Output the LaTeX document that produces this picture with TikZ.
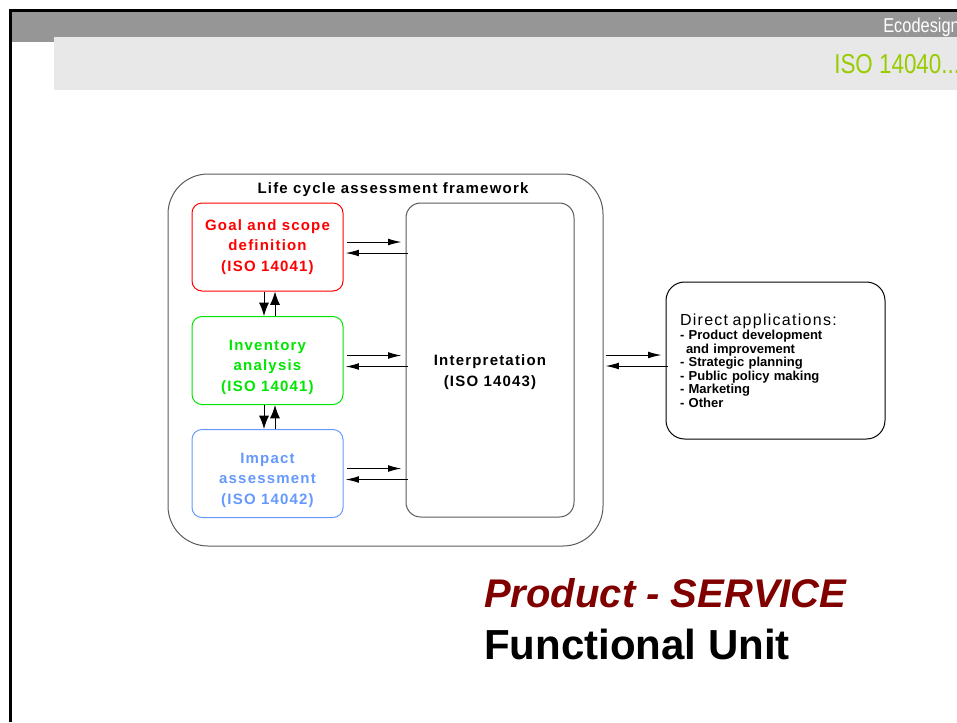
\documentclass[tikz,border=0pt]{standalone}
\usepackage{fontspec}
\setmainfont{Liberation Sans}
\newfontfamily\diafont[LetterSpace=8]{Liberation Sans}
\newfontfamily\narrowfont[FakeStretch=0.82]{Liberation Sans}
\usetikzlibrary{arrows.meta,calc}
\begin{document}
\begin{tikzpicture}[x=0.75pt,y=-0.75pt,
  stagebox/.style={draw, line width=0.75pt, rounded corners=7.5pt, minimum width=113.25pt, minimum height=66pt},
  stagetext/.style={align=center, font=\diafont\bfseries\fontsize{11.25}{15.4}\selectfont},
  fwd/.style={-{Latex[length=10pt,width=5pt]}, line width=0.75pt},
  vfwd/.style={-{Latex[length=10pt,width=7.5pt]}, line width=0.75pt}]

% Define colours taken from the slide
\definecolor{hdrgray}{RGB}{150,150,150}
\definecolor{panelgray}{RGB}{232,232,232}
\definecolor{isogreen}{RGB}{153,204,0}
\definecolor{framegray}{RGB}{90,90,90}
\definecolor{goalred}{RGB}{255,0,0}
\definecolor{invgreen}{RGB}{0,230,0}
\definecolor{impblue}{RGB}{102,153,255}
\definecolor{darkred}{RGB}{128,0,0}

\useasboundingbox (0,0) rectangle (957,722);

% Slide header (cut at the right edge)
\begin{scope}
\clip (0,0) rectangle (957,722);
\fill[hdrgray] (12,12) rectangle (957,42);
\fill[panelgray] (54,37) rectangle (957,90);
\draw[line width=2.25pt] (10.5,722) -- (10.5,10.5) -- (957,10.5);
\node[anchor=base west, inner sep=0, text=white, font=\narrowfont\fontsize{15}{18}\selectfont] (hdr) at (883,32) {Ecodesign};
\node[anchor=base west, inner sep=0, text=isogreen, font=\narrowfont\fontsize{20.5}{25}\selectfont] (iso) at (834,73) {ISO 14040...};
\end{scope}

% Framework
\node[draw=framegray, line width=0.75pt, rounded corners=30pt, minimum width=326.25pt, minimum height=279pt] (frame) at (385.5,360) {};
\node[font=\diafont\bfseries\fontsize{11.25}{13}\selectfont] (title) at (393,190) {Life cycle assessment framework};

% Phases
\node[stagebox, draw=goalred] (goal) at (267.5,247) {};
\node[stagebox, draw=invgreen] (inv) at (267.5,360.5) {};
\node[stagebox, draw=impblue] (imp) at (267.5,473.5) {};
\node[stagetext, text=goalred] (goaltxt) at (goal) {Goal and scope\\definition\\(ISO 14041)};
\node[stagetext, text=invgreen] (invtxt) at ($(inv)+(0,6.5)$) {Inventory\\analysis\\(ISO 14041)};
\node[stagetext, text=impblue] (imptxt) at ($(imp)+(0,6.5)$) {Impact\\assessment\\(ISO 14042)};

\node[draw=framegray, line width=0.75pt, rounded corners=11pt, minimum width=126pt, minimum height=235.5pt] (interp) at (490,360) {};
\node[align=center, font=\diafont\bfseries\fontsize{11.25}{15.75}\selectfont] (interptxt) at (490,372.5) {Interpretation\\(ISO 14043)};

% Applications
\node[draw, line width=0.75pt, rounded corners=14pt, minimum height=117.75pt, inner xsep=10.5pt, text width=143.25pt, align=left,
  font=\bfseries\fontsize{9.75}{10.2}\selectfont] (apps) at (775.5,360.5)
  {{\mdseries\diafont\fontsize{12}{10.2}\selectfont Direct applications:}\\[0.6pt]
   - Product development\\
   \hspace*{4.5pt}and improvement\\
   - Strategic planning\\
   - Public policy making\\
   - Marketing\\
   - Other};

% Links to interpretation
\foreach \s in {goal,inv,imp} {
  \draw[fwd] ($(\s.east)+(3,-5)$) -- ($(interp.west|-\s.east)+(-4,-5)$);
  \draw[fwd] ($(interp.west|-\s.east)+(2,6)$) -- ($(\s.east)+(2,6)$);
}

% Links between phases
\foreach \a/\b in {goal/inv,inv/imp} {
  \draw[vfwd] ($(\a.south)+(-3.5,0)$) -- ($(\b.north)+(-3.5,0)$);
  \draw[vfwd] ($(\b.north)+(7.5,0)$) -- ($(\a.south)+(7.5,0)$);
}

% Links to applications
\draw[fwd] ($(frame.east)+(2,-5)$) -- ($(apps.west|-frame.east)+(-4,-5)$);
\draw[fwd] ($(apps.west|-frame.east)+(2,6)$) -- ($(frame.east)+(2,6)$);

% Caption
\node[anchor=base west, inner sep=0, text=darkred, font=\bfseries\itshape\fontsize{30}{34}\selectfont] (prod) at (484,607) {Product - SERVICE};
\node[anchor=base west, inner sep=0, font=\bfseries\fontsize{31.5}{36}\selectfont] (unit) at (484,659) {Functional Unit};

\end{tikzpicture}
\end{document}
